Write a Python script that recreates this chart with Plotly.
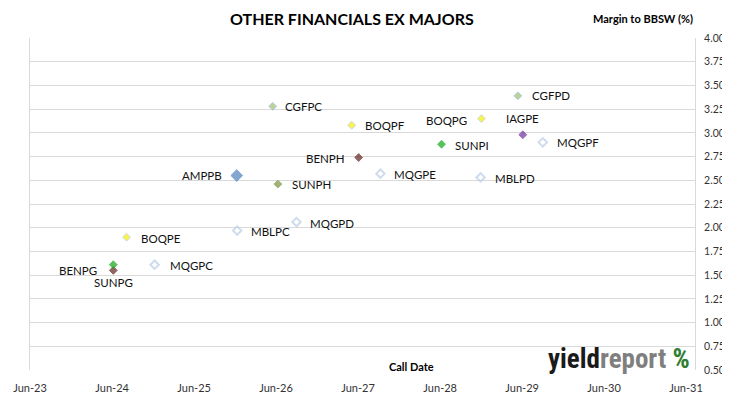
import plotly.graph_objects as go

# ---------------- data ----------------
securities = ["CGFPC", "BOQPF", "BOQPG", "CGFPD", "IAGPE", "SUNPI", "MQGPF", "BENPH", "MQGPE",
              "MBLPD", "AMPPB", "SUNPH", "MQGPD", "MBLPC", "BOQPE", "MQGPC", "BENPG", "SUNPG"]
call_dates = ["2026-05-17", "2027-05-04", "2028-12-02", "2029-05-13", "2029-06-04", "2028-06-07",
              "2029-09-01", "2027-06-04", "2027-09-09", "2028-11-28", "2025-12-08", "2026-06-09",
              "2026-08-31", "2025-12-10", "2024-08-04", "2024-12-07", "2024-06-06", "2024-06-06"]
margins = [3.28, 3.08, 3.15, 3.39, 2.98, 2.88, 2.90, 2.74, 2.57,
           2.53, 2.55, 2.46, 2.06, 1.97, 1.90, 1.61, 1.55, 1.61]
x_tick_dates = ["2023-06-01", "2024-06-01", "2025-06-01", "2026-06-01", "2027-06-01",
                "2028-06-01", "2029-06-01", "2030-06-01", "2031-06-01"]
x_tick_labels = ["Jun-23", "Jun-24", "Jun-25", "Jun-26", "Jun-27", "Jun-28", "Jun-29", "Jun-30", "Jun-31"]
y_tick_values = [0.50, 0.75, 1.00, 1.25, 1.50, 1.75, 2.00, 2.25, 2.50, 2.75, 3.00, 3.25, 3.50, 3.75, 4.00]

# ---------------- styles ----------------
issuer_style = {  # fill, outline, symbol, size, line width
    "CGF": ("#a3c06a", "#93b3dc", "diamond", 6, 1),
    "BOQ": ("#f5f000", "#b8c4d6", "diamond", 6, 1),
    "AMP": ("#4f81bd", "#4f81bd", "diamond", 9, 1),
    "SUNH": ("#77933c", "#77933c", "diamond", 6, 1),
    "SUN": ("#12a81a", "#12a81a", "diamond", 6, 1),
    "BEN": ("#632523", "#632523", "diamond", 6, 1),
    "IAG": ("#7030a0", "#7030a0", "diamond", 6, 1),
    "MQG": ("#b9cde5", "#b9cde5", "diamond-open", 6.5, 2),
}

def style_key(name):
    if name == "SUNPH":
        return "SUNH"
    if name.startswith("MBL"):
        return "MQG"
    return name[:3]

label_place = {  # anchor, xshift, yshift
    "CGFPC": ("left", 10, 0), "BOQPF": ("left", 11, 0), "BOQPG": ("right", -12, -2),
    "CGFPD": ("left", 12, 0), "IAGPE": ("center", 0, 16), "SUNPI": ("left", 11, -1),
    "MQGPF": ("left", 12, 0), "BENPH": ("right", -12, -1), "MQGPE": ("left", 12, -1),
    "MBLPD": ("left", 12, -1), "AMPPB": ("right", -13, 0), "SUNPH": ("left", 12, 0),
    "MQGPD": ("left", 12, -1), "MBLPC": ("left", 12, -1), "BOQPE": ("left", 12, -1),
    "MQGPC": ("left", 13, -1), "BENPG": ("right", -14, 0), "SUNPG": ("center", 0, -18),
}

fills = [issuer_style[style_key(n)][0] for n in securities]
lines = [issuer_style[style_key(n)][1] for n in securities]
symbols = [issuer_style[style_key(n)][2] for n in securities]
sizes = [issuer_style[style_key(n)][3] for n in securities]
lwidths = [issuer_style[style_key(n)][4] for n in securities]

FONT = "Lato, 'Open Sans', 'DejaVu Sans', sans-serif"

fig = go.Figure()
fig.add_trace(go.Scatter(
    x=call_dates, y=margins, mode="markers", text=securities,
    marker=dict(color=fills, symbol=symbols, size=sizes,
                line=dict(color=lines, width=lwidths)),
    hovertemplate="%{text}<br>%{x|%d %b %Y}<br>%{y:.2f}<extra></extra>",
    showlegend=False,
))

annotations = []
for n, d, m in zip(securities, call_dates, margins):
    anchor, dx, dy = label_place[n]
    annotations.append(dict(x=d, y=m, xref="x", yref="y", text=n, showarrow=False,
                            xanchor=anchor, yanchor="middle", xshift=dx, yshift=dy,
                            font=dict(family=FONT, size=11.5, color="#111111")))

# titles and logo
annotations += [
    dict(text="<b>OTHER FINANCIALS EX MAJORS</b>", xref="paper", yref="paper",
         x=0.4846, y=1.0, yshift=20, xanchor="center", yanchor="middle", showarrow=False,
         font=dict(family=FONT, size=16, color="#000000")),
    dict(text="<b>Margin to BBSW (%)</b>", xref="paper", yref="paper",
         x=1.0, xshift=0, y=1.0, yshift=20, xanchor="right", yanchor="middle", showarrow=False,
         font=dict(family=FONT, size=11, color="#000000")),
    dict(text="<b>Call Date</b>", xref="paper", yref="paper",
         x=0.573, y=0.0, yshift=4, xanchor="center", yanchor="middle", showarrow=False,
         font=dict(family=FONT, size=11, color="#000000")),
    dict(text="<b>yield</b><b><span style='color:#7f7f7f'>report</span></b> <b><span style='color:#2e7d32'>%</span></b>",
         xref="paper", yref="paper", x=0.996, y=0.0, yshift=11,
         xanchor="right", yanchor="middle", showarrow=False,
         font=dict(family="'Liberation Sans Narrow', 'Roboto Condensed', 'Arial Narrow', Roboto, sans-serif",
                   size=27, color="#1a1a1a")),
]

# the page body adds an 8px margin, so the figure is sized to end at the window edge
fig.update_layout(
    width=722, height=391,
    margin=dict(l=22, r=35, t=30, b=29, autoexpand=False),
    paper_bgcolor="white", plot_bgcolor="white",
    annotations=annotations,
    font=dict(family=FONT, size=11, color="#333333"),
    xaxis=dict(type="date", range=["2023-06-01", "2031-07-11"], automargin=False,
               tickvals=x_tick_dates, ticktext=x_tick_labels,
               showgrid=False, zeroline=False, showline=False, ticks="",
               ticklabelstandoff=10, tickfont=dict(family=FONT, size=11, color="#333333")),
    yaxis=dict(range=[0.5, 4.0], side="right", tickvals=y_tick_values, automargin=False,
               ticktext=[f"{v:.2f}" for v in y_tick_values],
               showgrid=True, gridcolor="#d9d9d9", gridwidth=1, zeroline=False,
               showline=True, linecolor="#d9d9d9", mirror=True, ticks="",
               ticklabelstandoff=6, tickfont=dict(family=FONT, size=10.5, color="#333333")),
)

fig.write_html("out.html")
